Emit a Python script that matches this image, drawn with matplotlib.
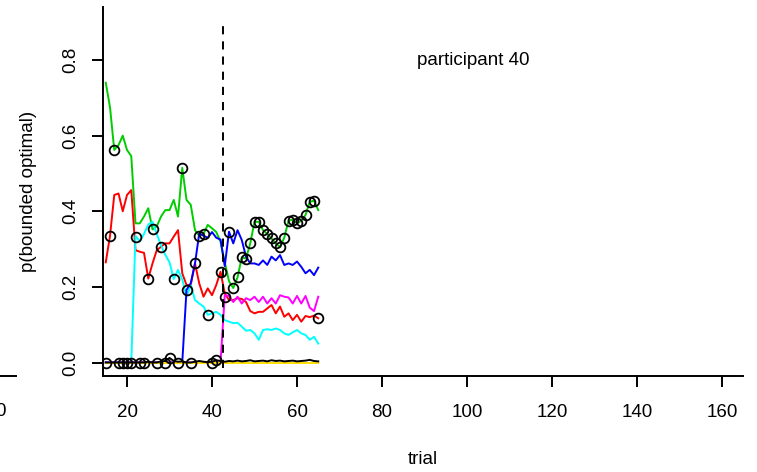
import matplotlib.pyplot as plt
from matplotlib.lines import Line2D

plt.rcParams['font.family'] = ['Liberation Sans', 'DejaVu Sans']

trials = list(range(15, 66))

green = [0.74, 0.675, 0.562, 0.575, 0.60, 0.562, 0.546, 0.368, 0.368, 0.386,
         0.408, 0.352, 0.36, 0.386, 0.403, 0.403, 0.43, 0.386, 0.515, 0.43,
         0.417, 0.35, 0.335, 0.34, 0.364, 0.355, 0.345, 0.32, 0.265, 0.215,
         0.197, 0.225, 0.278, 0.275, 0.315, 0.372, 0.372, 0.35, 0.34, 0.328,
         0.315, 0.305, 0.33, 0.375, 0.378, 0.368, 0.375, 0.39, 0.425, 0.428,
         0.403]
red = [0.265, 0.335, 0.443, 0.447, 0.40, 0.443, 0.456, 0.297, 0.293, 0.29,
       0.222, 0.262, 0.297, 0.306, 0.315, 0.315, 0.333, 0.35, 0.236, 0.205,
       0.205, 0.262, 0.209, 0.174, 0.196, 0.178, 0.205, 0.24, 0.183, 0.165,
       0.165, 0.17, 0.168, 0.16, 0.136, 0.13, 0.134, 0.134, 0.143, 0.152,
       0.13, 0.148, 0.121, 0.13, 0.112, 0.126, 0.108, 0.123, 0.12, 0.124,
       0.117]
cyan = [0, 0, 0, 0, 0, 0, 0, 0.335, 0.32, 0.34,
        0.365, 0.372, 0.34, 0.31, 0.285, 0.265, 0.221, 0.245, 0.22, 0.174,
        0.205, 0.165, 0.156, 0.148, 0.126, 0.13, 0.134, 0.126, 0.112, 0.108,
        0.104, 0.105, 0.095, 0.084, 0.086, 0.077, 0.06, 0.086, 0.088, 0.086,
        0.09, 0.086, 0.077, 0.073, 0.08, 0.086, 0.077, 0.073, 0.06, 0.068,
        0.05]
blue = [0] * 19 + [
        0.192, 0.21, 0.262, 0.342, 0.335, 0.33, 0.345, 0.33, 0.325, 0.255,
        0.346, 0.315, 0.35, 0.324, 0.28, 0.262, 0.262, 0.258, 0.27, 0.258,
        0.28, 0.27, 0.284, 0.258, 0.262, 0.258, 0.267, 0.253, 0.236, 0.245,
        0.231, 0.251]
magenta = [0] * 28 + [
        0.178, 0.176, 0.16, 0.174, 0.156, 0.17, 0.165, 0.174, 0.16, 0.174,
        0.156, 0.17, 0.156, 0.178, 0.174, 0.172, 0.156, 0.176, 0.156, 0.176,
        0.145, 0.136, 0.174]
yellow = [0] * 51
black = [0, 0, 0, 0, 0, 0, 0, 0, 0, 0,
         0.002, 0, 0, 0.003, 0.004, 0.012, 0.004, 0.002, 0.003, 0,
         0, 0.002, 0.004, 0.002, 0.001, 0.002, 0.006, 0.004, 0.002, 0.004,
         0.003, 0.005, 0.003, 0.004, 0.006, 0.003, 0.004, 0.005, 0.003, 0.006,
         0.004, 0.005, 0.003, 0.004, 0.005, 0.003, 0.004, 0.005, 0.007, 0.004,
         0.003]
chosen = [0, 0.335, 0.562, 0, 0, 0, 0, 0.333, 0, 0,
          0.222, 0.352, 0, 0.306, 0, 0.012, 0.221, 0, 0.515, 0.192,
          0, 0.262, 0.335, 0.34, 0.126, 0, 0.006, 0.24, 0.174, 0.346,
          0.197, 0.225, 0.278, 0.275, 0.315, 0.372, 0.372, 0.35, 0.34, 0.328,
          0.315, 0.305, 0.33, 0.375, 0.378, 0.368, 0.375, 0.39, 0.425, 0.428,
          0.117]

switch_trial = 42.6

fig = plt.figure(figsize=(7.57, 4.72), dpi=100)
ax = fig.add_axes([102.7 / 757, 1 - 376 / 472, 640.3 / 757, 369 / 472])

lw = 1.4
ax.plot(trials, green, color='#00CD00', lw=lw)
ax.plot(trials, red, color='#FF0000', lw=lw)
ax.plot(trials, cyan, color='#00FFFF', lw=lw)
ax.plot(trials, blue, color='#0000FF', lw=lw)
ax.plot(trials, magenta, color='#FF00FF', lw=lw)
ax.plot(trials, yellow, color='#FFE000', lw=lw)
ax.plot(trials, black, color='black', lw=lw)
ax.plot(trials, chosen, 'o', ms=7, mfc='none', mec='black', mew=1.3)

ax.plot([switch_trial, switch_trial], [-0.015, 0.9], color='black', lw=lw,
        dashes=(4.2, 3.6))

ax.text(101.5, 0.8, 'participant 40', ha='center', va='center', fontsize=13.5)

ax.set_xlim(14.28, 164.94)
ax.set_ylim(-0.0357, 0.9402)
ax.set_xticks(range(20, 161, 20))
ax.set_yticks([0, 0.2, 0.4, 0.6, 0.8])
ax.set_yticklabels(['0.0', '0.2', '0.4', '0.6', '0.8'], rotation=90, va='center')

for s in ['top', 'right']:
    ax.spines[s].set_visible(False)
for s in ['left', 'bottom']:
    ax.spines[s].set_linewidth(lw)
ax.tick_params(axis='both', direction='out', length=8, width=lw, labelsize=13.5)
ax.tick_params(axis='x', pad=12)
ax.tick_params(axis='y', pad=9)

ax.set_xlabel('trial', fontsize=13.5)
ax.xaxis.set_label_coords(0.5, (376 - 459) / 369)
ax.xaxis.label.set_va('center')
ax.set_ylabel('p(bounded optimal)', fontsize=13.5)
ax.yaxis.set_label_coords((28 - 102.7) / 640.3, 0.5)
ax.yaxis.label.set_va('center')

# edge of the neighbouring panel
fig.add_artist(Line2D([0, 16 / 757], [1 - 376 / 472] * 2, transform=fig.transFigure,
                      color='black', lw=lw))
fig.text(1 / 757, 1 - 412 / 472, '0', ha='center', va='center', fontsize=13.5)

fig.savefig('out.png', dpi=100)
